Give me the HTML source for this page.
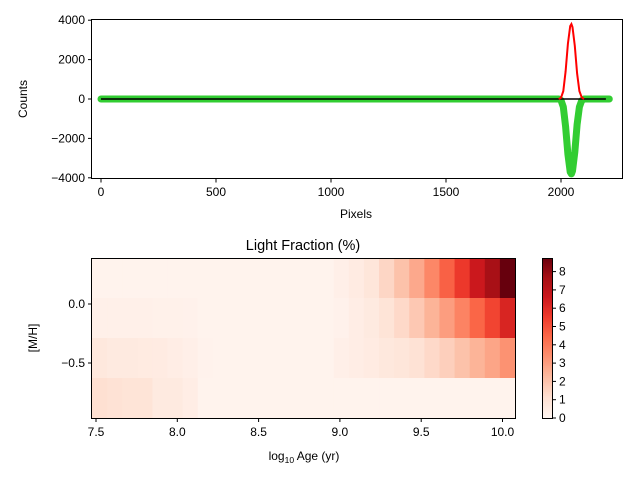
<!DOCTYPE html>
<html><head><meta charset="utf-8"><style>
body{margin:0;background:#fff}
svg{display:block;font-family:"Liberation Sans","DejaVu Sans",sans-serif}
</style></head><body>
<svg id="fig" width="640" height="480" xmlns="http://www.w3.org/2000/svg">
<rect width="640" height="480" fill="#fff"/>
<g id="topPanel"></g>
<g id="botPanel"></g>
</svg>
<script>
// ---- top panel data ----
const specX = [0, 1990, 2000, 2010, 2020, 2030, 2040, 2045, 2050, 2060, 2070, 2080, 2090, 2100, 2210];
const redVals = [0, 0, 60, 400, 1400, 2800, 3700, 3800, 3650, 2700, 1300, 400, 80, 0, 0];
const greenVals = [0, 0, -60, -400, -1400, -2800, -3700, -3800, -3650, -2700, -1300, -400, -80, 0, 0];
const blackX = [0, 2195];
const blackVals = [0, 0];
const topXTicks = [0, 500, 1000, 1500, 2000];
const topYTicks = [-4000, -2000, 0, 2000, 4000];
// ---- heatmap data (rows top to bottom) ----
const ageTicks = [7.5, 8.0, 8.5, 9.0, 9.5, 10.0];
const mhTicks = [0.0, -0.5];
const cbTicks = [0,1,2,3,4,5,6,7,8];
const row0 = [0.1,0.1,0.1,0.1,0.1,0.1,0.1,0.1,0.1,0.1,0.1,0.1,0.1,0.1,0.1,0.1,0.3,0.5,0.8,1.4,2.0,2.7,3.6,4.6,5.6,6.6,7.6,8.8];
const row1 = [0.25,0.25,0.25,0.25,0.22,0.22,0.2,0.1,0.1,0.1,0.1,0.1,0.1,0.1,0.1,0.1,0.2,0.4,0.6,0.9,1.3,1.8,2.4,3.0,3.7,4.5,5.3,6.2];
const row2 = [0.7,0.6,0.6,0.55,0.5,0.4,0.3,0.15,0.12,0.1,0.1,0.1,0.1,0.1,0.1,0.1,0.3,0.4,0.5,0.7,0.8,1.0,1.3,1.6,2.0,2.4,2.8,3.3];
const row3 = [1.1,1.0,0.9,0.9,0.6,0.6,0.4,0.1,0.1,0.1,0.1,0.1,0.1,0.1,0.1,0.1,0.1,0.1,0.1,0.1,0.1,0.1,0.1,0.1,0.1,0.1,0.1,0.1];
const rows = [row0,row1,row2,row3];

const NS="http://www.w3.org/2000/svg";
function mk(tag,attrs,parent,text){const e=document.createElementNS(NS,tag);for(const k in attrs)e.setAttribute(k,attrs[k]);if(text!==undefined)e.textContent=text;parent.appendChild(e);return e;}

// ---- top panel ----
const topG=document.getElementById('topPanel');
const tx=v=>101+v*0.23, ty=v=>99-v*0.0197;
const pts=(xs,ys)=>xs.map((x,i)=>tx(x).toFixed(1)+','+ty(ys[i]).toFixed(1)).join(' ');
let l=mk('polyline',{points:pts(specX,greenVals),fill:'none',stroke:'#32cd32','stroke-width':7,'stroke-linejoin':'round','stroke-linecap':'round'},topG);


l=mk('polyline',{points:pts(blackX,blackVals),fill:'none',stroke:'#000','stroke-width':1.5},topG);


l=mk('polyline',{points:pts(specX.slice(1,14),redVals.slice(1,14)),fill:'none',stroke:'#ff0000','stroke-width':2},topG);


let f=mk('rect',{x:91.5,y:19.5,width:531,height:159,fill:'none',stroke:'#000','stroke-width':1},topG);


topXTicks.forEach(v=>{const x=tx(v);mk('line',{x1:x,x2:x,y1:179,y2:182.5,stroke:'#000'},topG);
 const t=mk('text',{x:x,y:196,'font-size':12,'text-anchor':'middle'},topG,String(v));
 
 });
topYTicks.forEach(v=>{const y=ty(v);mk('line',{x1:88,x2:91.5,y1:y,y2:y,stroke:'#000'},topG);
 const t=mk('text',{x:85,y:y+4,'font-size':12,'text-anchor':'end'},topG,String(v).replace('-','\u2212'));
 
 });
let t=mk('text',{x:356,y:218,'font-size':12,'text-anchor':'middle'},topG,'Pixels');


t=mk('text',{x:27,y:99,'font-size':12,'text-anchor':'middle',transform:'rotate(-90 27 99)'},topG,'Counts');



// ---- heatmap ----
const stops=[[0,[255,245,240]],[0.125,[254,224,210]],[0.25,[252,187,161]],[0.375,[252,146,114]],[0.5,[251,106,74]],[0.625,[239,59,44]],[0.75,[203,24,29]],[0.875,[165,15,21]],[1,[103,0,13]]];
const vmax=8.8;
function cmap(v){let s=Math.max(0,Math.min(1,v/vmax));for(let i=1;i<stops.length;i++){if(s<=stops[i][0]){const a=stops[i-1],b=stops[i],u=(s-a[0])/(b[0]-a[0]);return 'rgb('+a[1].map((c,k)=>Math.round(c+(b[1][k]-c)*u)).join(',')+')';}}return 'rgb(103,0,13)';}
const botG=document.getElementById('botPanel');
const ax=v=>96+(v-7.5)*162.6;
const x0=92, x1=515, y0=258, y1=418;
const ncol=row0.length, cw=(x1-x0)/ncol, rh=(y1-y0)/rows.length;
rows.forEach((r,ri)=>r.forEach((v,ci)=>{
 const c=mk('rect',{x:(x0+ci*cw).toFixed(2),y:y0+ri*rh,width:(cw+0.5).toFixed(2),height:rh+0.5,fill:cmap(v)},botG);
 
 
}));
f=mk('rect',{x:91.5,y:258.5,width:424,height:160,fill:'none',stroke:'#000'},botG);


ageTicks.forEach(v=>{const x=ax(v);mk('line',{x1:x,x2:x,y1:418.5,y2:422,stroke:'#000'},botG);
 const t=mk('text',{x:x,y:436,'font-size':12,'text-anchor':'middle'},botG,v.toFixed(1));
 
 });
mhTicks.forEach(v=>{const y=304-v*118;mk('line',{x1:88,x2:91.5,y1:y,y2:y,stroke:'#000'},botG);
 const t=mk('text',{x:85,y:y+4,'font-size':12,'text-anchor':'end'},botG,v.toFixed(1).replace('-','\u2212'));
 
 });
t=mk('text',{x:303,y:250,'font-size':14.5,'text-anchor':'middle'},botG,'Light Fraction (%)');


t=mk('text',{x:37,y:338,'font-size':12,'text-anchor':'middle',transform:'rotate(-90 37 338)'},botG,'[M/H]');


t=mk('text',{x:304,y:460,'font-size':12,'text-anchor':'middle'},botG);


mk('tspan',{},t,'log');
mk('tspan',{'font-size':8.5,dy:3},t,'10');
mk('tspan',{dy:-3},t,' Age (yr)');
// colorbar
const cb=mk('g',{},botG);


const cby=v=>418-v*18.3;
for(let i=0;i<80;i++){const v=vmax*i/80;mk('rect',{x:542,y:(418-(i+1)*2),width:10,height:2.3,fill:cmap(v)},cb);}
mk('rect',{x:542.5,y:258.5,width:10,height:160,fill:'none',stroke:'#000'},cb);
cbTicks.forEach(v=>{const y=cby(v);mk('line',{x1:552.5,x2:556,y1:y,y2:y,stroke:'#000'},cb);
 const t=mk('text',{x:559,y:y+4,'font-size':12},cb,String(v));
 
 });
</script>
</body></html>
